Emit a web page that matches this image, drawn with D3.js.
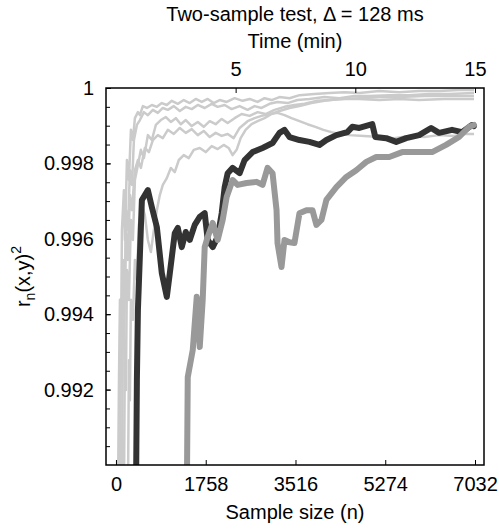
<!DOCTYPE html>
<html>
<head>
<meta charset="utf-8">
<script src="https://cdn.jsdelivr.net/npm/d3@7"></script>
<style>
body { margin: 0; background: #fff; }
text { font-family: "Liberation Sans", Arial, sans-serif; fill: #000; }
</style>
</head>
<body>
<div id="chart"></div>
<script>
// DATA ------------------------------
const nTicks = [0, 1758, 3516, 5274, 7032];
const timeTicks = [5, 10, 15];            // minutes, 128 ms per sample
const rTicks = [0.992, 0.994, 0.996, 0.998, 1];
const rMinorTicks = d3.range(0.9905, 1.0, 0.0005);

// light gray runs [n, r^2]
const light1 = [[39,0.989],[59,0.99225],[78,0.99438],[98,0.99305],[117,0.99623],[156,0.99729],[176,0.99597],[215,0.99809],[254,0.99756],[293,0.99889],[332,0.99862],[371,0.99920],[430,0.99936],[469,0.99928],[527,0.99952],[606,0.99947],[703,0.99955],[801,0.99950],[898,0.99960],[996,0.99955],[1094,0.99966],[1211,0.99958],[1328,0.99968],[1445,0.99960],[1563,0.99971],[1680,0.99963],[1797,0.99971],[1914,0.99960],[2031,0.99968],[2168,0.99963],[2324,0.99973],[2481,0.99966],[2617,0.99971],[2774,0.99963],[2910,0.99973],[3047,0.99968],[3203,0.99976],[3399,0.99973],[3594,0.99981],[3887,0.99984],[4180,0.99987],[4473,0.99989],[4766,0.99987],[5157,0.99992],[5547,0.99989],[5938,0.99992],[6329,0.99992],[6719,0.99995],[7012,0.99995]];
const light2 = [[78,0.989],[98,0.99358],[117,0.99225],[137,0.99544],[176,0.99438],[195,0.99676],[234,0.99623],[273,0.99782],[313,0.99743],[352,0.99862],[410,0.99902],[469,0.99915],[547,0.99936],[625,0.99928],[723,0.99942],[820,0.99934],[918,0.99947],[1016,0.99942],[1133,0.99952],[1250,0.99939],[1367,0.99950],[1484,0.99944],[1602,0.99955],[1738,0.99947],[1875,0.99958],[1992,0.99950],[2129,0.99955],[2266,0.99944],[2422,0.99952],[2578,0.99942],[2715,0.99952],[2852,0.99947],[3008,0.99958],[3164,0.99963],[3360,0.99960],[3555,0.99968],[3789,0.99971],[4082,0.99976],[4375,0.99973],[4668,0.99979],[4961,0.99979],[5352,0.99981],[5743,0.99981],[6133,0.99984],[6524,0.99984],[7012,0.99987]];
const light3 = [[156,0.989],[176,0.99331],[195,0.99199],[215,0.99517],[254,0.99438],[293,0.99650],[332,0.99597],[371,0.99756],[430,0.99796],[488,0.99836],[547,0.99814],[625,0.99875],[703,0.99862],[781,0.99902],[879,0.99915],[977,0.99923],[1074,0.99910],[1172,0.99920],[1270,0.99904],[1367,0.99915],[1484,0.99899],[1602,0.99910],[1719,0.99897],[1836,0.99912],[1953,0.99904],[2070,0.99918],[2188,0.99907],[2324,0.99920],[2461,0.99931],[2617,0.99926],[2774,0.99936],[2930,0.99931],[3106,0.99942],[3301,0.99950],[3496,0.99955],[3692,0.99958],[3946,0.99966],[4180,0.99968],[4473,0.99971],[4766,0.99971],[5157,0.99968],[5547,0.99971],[5938,0.99968],[6426,0.99971],[7012,0.99971]];
const light4 = [[117,0.989],[137,0.99438],[156,0.99305],[195,0.99623],[234,0.99544],[273,0.99716],[313,0.99676],[371,0.99782],[430,0.99809],[488,0.99788],[566,0.99841],[645,0.99830],[723,0.99862],[820,0.99875],[918,0.99867],[1016,0.99889],[1133,0.99878],[1250,0.99894],[1367,0.99881],[1484,0.99891],[1602,0.99875],[1719,0.99886],[1836,0.99870],[1953,0.99881],[2070,0.99873],[2188,0.99878],[2305,0.99867],[2422,0.99894],[2578,0.99912],[2715,0.99920],[2852,0.99926],[3008,0.99931],[3164,0.99934],[3301,0.99928],[3438,0.99920],[3594,0.99912],[3750,0.99904],[3906,0.99897],[4063,0.99889],[4219,0.99883],[4375,0.99878],[4570,0.99875],[4864,0.99873],[5157,0.99870],[5450,0.99867],[5743,0.99873],[6036,0.99870],[6329,0.99875],[6622,0.99873],[6817,0.99878],[7012,0.99878]];
const light5 = [[234,0.989],[254,0.99278],[273,0.99172],[293,0.99438],[332,0.99385],[371,0.99544],[410,0.99491],[449,0.99637],[508,0.99690],[566,0.99663],[625,0.99597],[684,0.99565],[742,0.99623],[801,0.99676],[859,0.99716],[918,0.99743],[996,0.99761],[1074,0.99788],[1152,0.99777],[1231,0.99809],[1328,0.99822],[1426,0.99814],[1524,0.99836],[1641,0.99841],[1758,0.99830],[1875,0.99846],[1992,0.99838],[2110,0.99849],[2207,0.99841],[2285,0.99822],[2363,0.99836],[2442,0.99867],[2539,0.99889],[2656,0.99904],[2774,0.99912],[2910,0.99920],[3047,0.99931],[3203,0.99939],[3399,0.99947],[3594,0.99952],[3828,0.99960],[4082,0.99966],[4375,0.99971],[4766,0.99973],[5157,0.99976],[5547,0.99976],[6036,0.99979],[6524,0.99979],[7012,0.99979]];

// the two highlighted runs
const darkRun = [[391,0.989],[410,0.99225],[430,0.99411],[508,0.99703],[625,0.99729],[703,0.99684],[801,0.99631],[898,0.99509],[996,0.99446],[1055,0.99509],[1152,0.99615],[1211,0.99629],[1289,0.99578],[1367,0.99618],[1445,0.99597],[1543,0.99637],[1641,0.99658],[1738,0.99668],[1797,0.99597],[1895,0.99578],[1992,0.99605],[2071,0.99668],[2129,0.99737],[2188,0.99774],[2285,0.99788],[2422,0.99774],[2520,0.99809],[2676,0.99830],[2871,0.99841],[3067,0.99854],[3203,0.99881],[3301,0.99889],[3399,0.99870],[3594,0.99862],[3789,0.99857],[3985,0.99849],[4121,0.99862],[4317,0.99875],[4532,0.99883],[4629,0.99897],[4766,0.99894],[5020,0.99904],[5079,0.99870],[5293,0.99867],[5489,0.99857],[5684,0.99867],[5938,0.99875],[6172,0.99894],[6329,0.99881],[6582,0.99889],[6778,0.99883],[6973,0.99902],[7012,0.99899]];
const grayRun = [[1387,0.989],[1406,0.99233],[1504,0.99305],[1582,0.99446],[1641,0.99313],[1699,0.99438],[1738,0.99578],[1797,0.99605],[1895,0.99642],[1992,0.99597],[2090,0.99650],[2168,0.99711],[2285,0.99756],[2383,0.99743],[2559,0.99748],[2754,0.99751],[2871,0.99743],[2969,0.99788],[3067,0.99774],[3145,0.99676],[3164,0.99589],[3242,0.99525],[3301,0.99597],[3399,0.99591],[3496,0.99589],[3594,0.99668],[3731,0.99676],[3848,0.99676],[3926,0.99637],[4024,0.99650],[4121,0.99703],[4317,0.99737],[4512,0.99764],[4707,0.99782],[4903,0.99804],[5098,0.99817],[5352,0.99817],[5606,0.99830],[5938,0.99830],[6192,0.99830],[6465,0.99849],[6719,0.99870],[6915,0.99897],[7012,0.99902]];

// CHART ------------------------------
const margin = ({top: 88, right: 15, bottom: 66, left: 106});
const width = 499 - margin.left - margin.right,
      height = 531 - margin.top - margin.bottom;

const svgRoot = d3.select("#chart")
    .append("svg")
    .attr("width", 499)
    .attr("height", 531);

const svg = svgRoot.append("g")
    .attr("transform", "translate(" + margin.left + "," + margin.top + ")");

const xScale = d3.scaleLinear()
    .domain([-195, 7208])
    .range([0, width]);

const yScale = d3.scaleLinear()
    .domain([0.990, 1.000])
    .range([height, 0]);

const minToN = t => t * 60 / 0.128;

svg.append("clipPath")
    .attr("id", "plot-clip")
    .append("rect")
    .attr("width", width)
    .attr("height", height);

const line = d3.line()
    .x(d => xScale(d[0]))
    .y(d => yScale(d[1]));

const lines = svg.append("g").attr("clip-path", "url(#plot-clip)");

[light1, light2, light3, light4, light5].forEach(run => {
    lines.append("path")
        .datum(run)
        .attr("d", line)
        .attr("fill", "none")
        .attr("stroke", "#cbcbcb")
        .attr("stroke-width", 2.5)
        .attr("stroke-linejoin", "round");
});

lines.append("path")
    .datum(darkRun)
    .attr("d", line)
    .attr("fill", "none")
    .attr("stroke", "#333333")
    .attr("stroke-width", 6)
    .attr("stroke-linejoin", "round")
    .attr("stroke-linecap", "round");

lines.append("path")
    .datum(grayRun)
    .attr("d", line)
    .attr("fill", "none")
    .attr("stroke", "#999999")
    .attr("stroke-width", 6)
    .attr("stroke-linejoin", "round")
    .attr("stroke-linecap", "round");

// axes (ticks point inward)
const xAxis = d3.axisBottom(xScale)
    .tickValues(nTicks)
    .tickSizeInner(-5)
    .tickSizeOuter(0)
    .tickPadding(12)
    .tickFormat(d3.format("d"));

const topAxis = d3.axisTop(xScale)
    .tickValues(timeTicks.map(minToN))
    .tickSizeInner(-5)
    .tickSizeOuter(0)
    .tickPadding(12)
    .tickFormat((d, i) => timeTicks[i]);

const yAxis = d3.axisLeft(yScale)
    .tickValues(rTicks)
    .tickSizeInner(-5)
    .tickSizeOuter(0)
    .tickPadding(12)
    .tickFormat(d => d === 1 ? "1" : d3.format(".3f")(d));

svg.append("g")
    .attr("class", "axis x-axis")
    .attr("transform", "translate(0," + height + ")")
    .call(xAxis);

svg.append("g")
    .attr("class", "axis top-axis")
    .call(topAxis);

svg.append("g")
    .attr("class", "axis y-axis")
    .call(yAxis);

svg.append("g")
    .attr("class", "axis y-minor")
    .call(d3.axisLeft(yScale).tickValues(rMinorTicks).tickSizeInner(-4).tickSizeOuter(0).tickFormat(""));

svg.selectAll(".axis path").remove();
svg.selectAll(".axis line").attr("stroke", "#000").attr("stroke-width", 1);
svg.selectAll(".axis text")
    .attr("font-size", 20)
    .attr("font-family", "'Liberation Sans', Arial, sans-serif")
    .attr("fill", "#000");

// frame
svg.append("rect")
    .attr("width", width)
    .attr("height", height)
    .attr("fill", "none")
    .attr("stroke", "#000")
    .attr("stroke-width", 1.5);

// labels
svgRoot.append("text")
    .attr("x", margin.left + width / 2)
    .attr("y", 21)
    .attr("text-anchor", "middle")
    .attr("font-size", 20)
    .text("Two-sample test, \u0394 = 128 ms");

svgRoot.append("text")
    .attr("x", margin.left + width / 2)
    .attr("y", 48)
    .attr("text-anchor", "middle")
    .attr("font-size", 20)
    .text("Time (min)");

svgRoot.append("text")
    .attr("x", margin.left + width / 2)
    .attr("y", 519)
    .attr("text-anchor", "middle")
    .attr("font-size", 20)
    .text("Sample size (n)");

const ylab = svgRoot.append("text")
    .attr("transform", "translate(30," + (margin.top + height / 2) + ") rotate(-90)")
    .attr("text-anchor", "middle")
    .attr("font-size", 20);
ylab.append("tspan").text("r");
ylab.append("tspan").attr("font-size", 14).attr("dy", 5).text("n");
ylab.append("tspan").attr("dy", -5).text("(x,y)");
ylab.append("tspan").attr("font-size", 14).attr("dy", -9).text("2");
</script>
</body>
</html>
